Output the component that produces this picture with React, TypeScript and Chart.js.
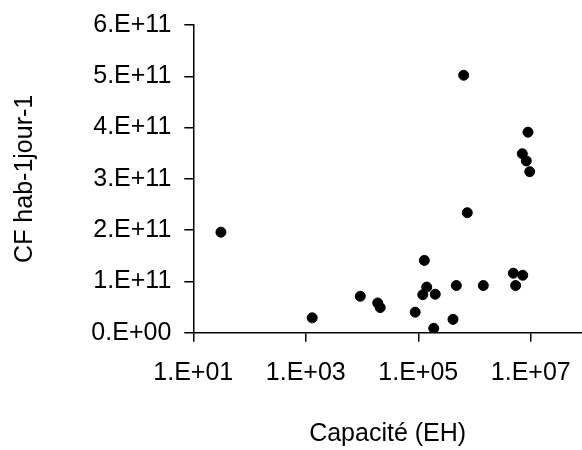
import React, { useEffect, useRef } from "react";
import { Chart, registerables } from "chart.js";

Chart.register(...registerables);

const capacity: number[] = [
  31, 1300, 9300, 19000, 21000, 88000, 128000, 141000, 120000, 200000, 188000,
  414000, 474000, 641000, 743000, 1430000, 4890000, 5380000, 7180000, 7060000,
  8320000, 8910000, 9550000,
];
const cf: number[] = [
  1.96e11, 0.29e11, 0.71e11, 0.58e11, 0.49e11, 0.4e11, 1.41e11, 0.89e11,
  0.74e11, 0.75e11, 0.085e11, 0.26e11, 0.92e11, 5.02e11, 2.34e11, 0.92e11,
  1.16e11, 0.92e11, 1.12e11, 3.49e11, 3.35e11, 3.91e11, 3.14e11,
];
const xTicks: number[] = [1e1, 1e3, 1e5, 1e7];
const yTicks: number[] = [0, 1e11, 2e11, 3e11, 4e11, 5e11, 6e11];
const xTitle = "Capacité (EH)";
const yTitle = "CF hab-1jour-1";

const FONT = "'Liberation Sans', Arial, sans-serif";
const FS = 25;

const stretchRight = {
  id: "stretchRight",
  afterLayout(chart: any) {
    try {
      const x = chart.scales.x;
      const W = chart.width;
      if (x && x.right < W) {
        x.right = W;
        x.width = W - x.left;
        chart.chartArea.right = W;
        chart.chartArea.width = W - chart.chartArea.left;
        x.configure();
      }
    } catch (e) {
      /* ignore */
    }
  },
};

export default function App() {
  const ref = useRef<HTMLCanvasElement | null>(null);
  useEffect(() => {
    if (!ref.current) return;
    const chart = new Chart(ref.current, {
      type: "scatter",
      data: {
        datasets: [
          {
            data: capacity.map((x, i) => ({ x, y: cf[i] })),
            backgroundColor: "#000",
            borderColor: "#000",
            pointRadius: 5,
            pointHoverRadius: 5,
          },
        ],
      },
      plugins: [stretchRight],
      options: {
        animation: false,
        responsive: false,
        events: [],
        layout: { padding: { top: 25, left: 0, right: 0, bottom: 0 } },
        plugins: { legend: { display: false }, tooltip: { enabled: false } },
        scales: {
          x: {
            type: "logarithmic",
            min: 10,
            max: Math.pow(10, 7.91),
            afterBuildTicks: (s: any) => {
              s.ticks = xTicks.map((v) => ({ value: v }));
            },
            afterFit: (s: any) => {
              s.height = 117.3;
              s.paddingLeft = 0;
              s.paddingRight = 0;
            },
            grid: {
              drawOnChartArea: false,
              drawTicks: true,
              tickLength: 9,
              color: "#000",
              lineWidth: 1.5,
            },
            border: { color: "#000", width: 1.5 },
            ticks: {
              color: "#000",
              font: { family: FONT, size: FS },
              padding: 16,
              maxRotation: 0,
              autoSkip: false,
              callback: (v: any) => {
                const e = Math.round(Math.log10(Number(v)));
                return "1.E+" + String(e).padStart(2, "0");
              },
            },
            title: {
              display: true,
              text: xTitle,
              color: "#000",
              font: { family: FONT, size: FS },
              padding: { top: 4, bottom: 1 },
            },
          },
          y: {
            min: 0,
            max: 6e11,
            afterBuildTicks: (s: any) => {
              s.ticks = yTicks.map((v) => ({ value: v }));
            },
            afterFit: (s: any) => {
              s.width = 193.3;
              s.paddingTop = 0;
              s.paddingBottom = 0;
            },
            grid: {
              drawOnChartArea: false,
              drawTicks: true,
              tickLength: 9,
              color: "#000",
              lineWidth: 1.5,
            },
            border: { color: "#000", width: 1.5 },
            ticks: {
              color: "#000",
              font: { family: FONT, size: FS },
              padding: 13,
              callback: (v: any) => {
                const n = Number(v);
                if (n === 0) return "0.E+00";
                return Math.round(n / 1e11) + ".E+11";
              },
            },
            title: {
              display: true,
              text: yTitle,
              color: "#000",
              font: { family: FONT, size: FS },
              padding: { top: 10, bottom: 4 },
            },
          },
        },
      },
    });
    return () => chart.destroy();
  }, []);
  return (
    <div style={{ position: "fixed", left: 0, top: 0, width: 582, height: 450, background: "#fff" }}>
      <canvas ref={ref} width={582} height={450} style={{ width: 582, height: 450, display: "block" }} />
    </div>
  );
}
